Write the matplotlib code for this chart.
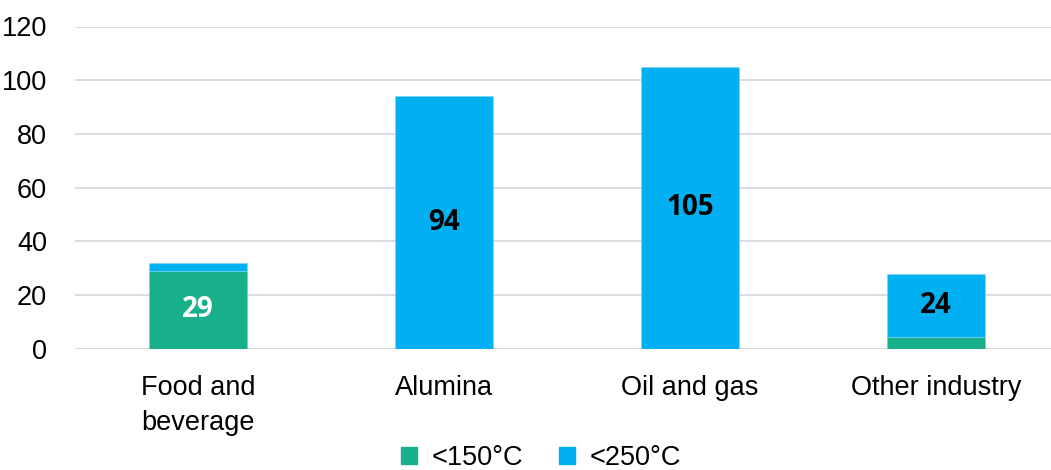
import matplotlib
matplotlib.use("Agg")
import matplotlib.pyplot as plt
import numpy as np
from matplotlib.patches import Patch

categories = ["Food and\nbeverage", "Alumina", "Oil and gas", "Other industry"]
below_150 = [29, 0, 0, 4.2]
below_250 = [3, 94, 105, 23.6]
labels = ["29", "94", "105", "24"]
label_on = ["green", "blue", "blue", "blue"]
series_names = ["<150°C", "<250°C"]

green = "#17B08A"
blue = "#00B0F0"

plt.rcParams["font.family"] = ["Liberation Sans", "DejaVu Sans"]

fig = plt.figure(figsize=(10.51, 4.70), dpi=100)
ax = fig.add_axes([75 / 1051, 1 - 348.7 / 470, (1051 - 75) / 1051, (348.7 - 26.5) / 470])

x = np.arange(len(categories))
width = 0.40
ax.bar(x, below_150, width, color=green, edgecolor="#6fd0b6", linewidth=0.4, zorder=3)
ax.bar(x, below_250, width, bottom=below_150, color=blue, edgecolor="#7fd7f7",
       linewidth=0.4, zorder=3)

for i, txt in enumerate(labels):
    if label_on[i] == "green":
        y = below_150[i] / 2
        col = "white"
    else:
        y = below_150[i] + below_250[i] / 2
        col = "black"
    ax.text(x[i], y, txt, ha="center", va="center", fontsize=20, fontweight="bold",
            color=col, family=["Open Sans", "DejaVu Sans"], zorder=4)

ax.set_ylim(0, 120)
ax.set_xlim(-0.5, 3.5 - 8 / 246)
ax.set_yticks(range(0, 121, 20))
ax.yaxis.grid(True, color="#D9DEE4", linewidth=1.4, zorder=0)
ax.set_axisbelow(True)
for s in ["top", "right", "left", "bottom"]:
    ax.spines[s].set_visible(False)
ax.axhline(0, color="#D5DAE0", linewidth=1.6, zorder=1)

ax.set_xticks(x)
ax.set_xticklabels(categories, fontsize=19.5, linespacing=1.45)
ax.tick_params(axis="both", length=0, labelsize=19.5)
ax.tick_params(axis="x", pad=19)
ax.tick_params(axis="y", pad=20)

handles = [Patch(color=green), Patch(color=blue)]
fig.legend(handles, series_names, loc="center", bbox_to_anchor=(541 / 1051, 12 / 470),
           ncol=2, frameon=False, fontsize=19.5, handlelength=0.6, handleheight=0.6,
           handletextpad=0.55, columnspacing=1.3)

fig.savefig("out.png", dpi=100)
